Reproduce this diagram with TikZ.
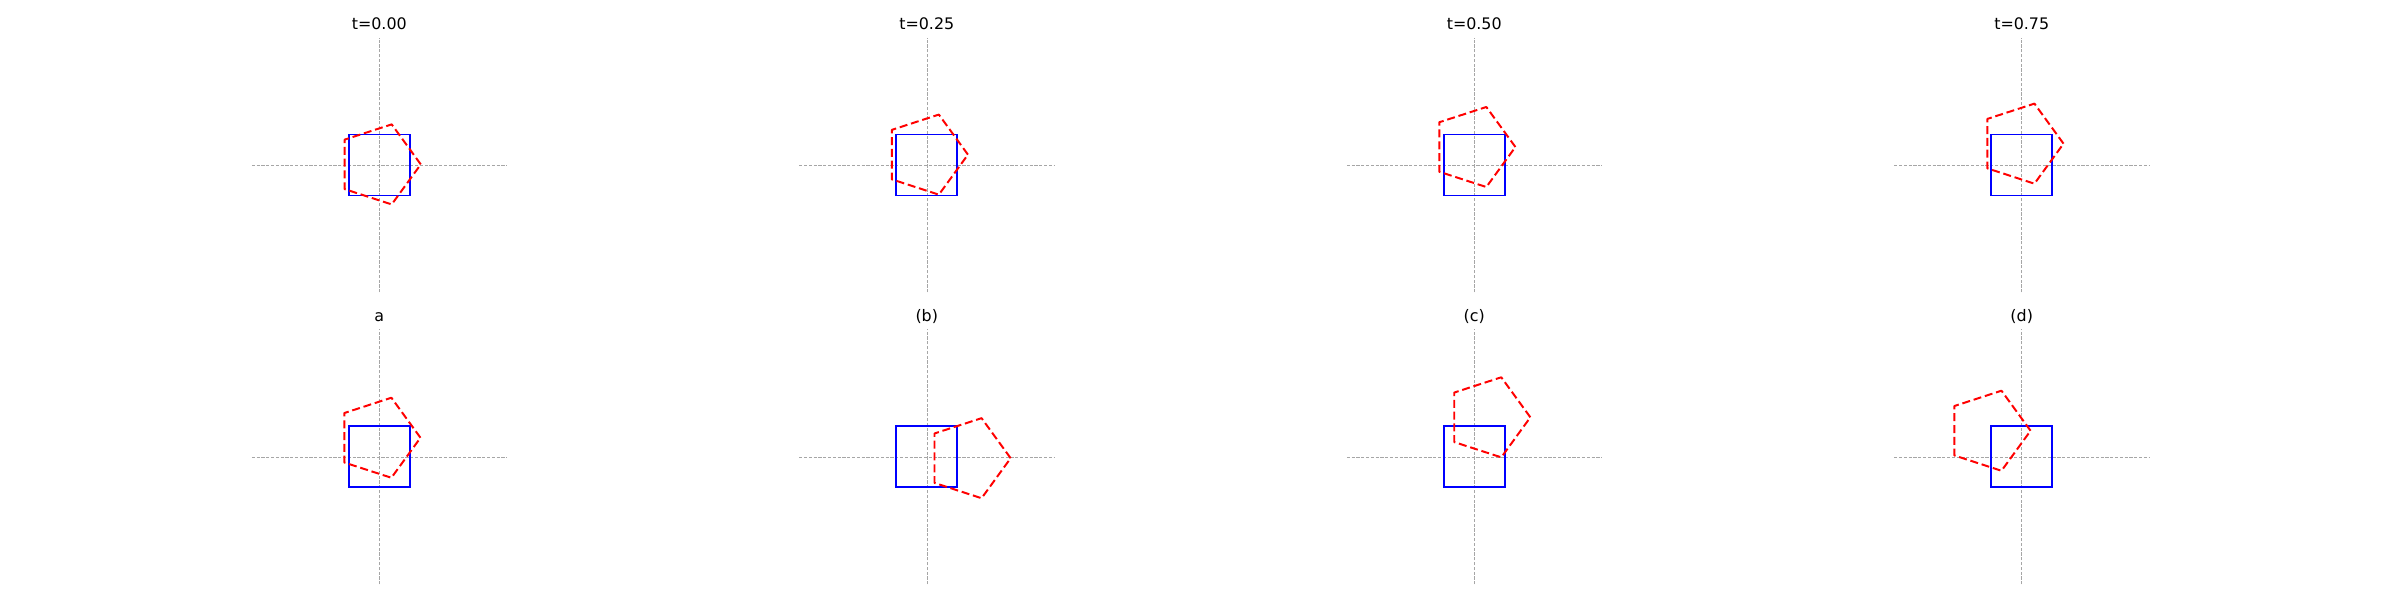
\documentclass[tikz,border=0pt]{standalone}
\usepackage{fontspec}
\setmainfont{DejaVu Sans}
\usetikzlibrary{calc}

\begin{document}
\begin{tikzpicture}[x=7.625mm,y=7.625mm,
    axisline/.style={gray!70,line width=0.35pt,dash pattern=on 0.8mm off 0.4mm},
    sq/.style={blue,line width=1.4pt},
    pent/.style={red,line width=1.4pt,dash pattern=on 2mm off 0.95mm,line join=round},
    ttl/.style={anchor=base,inner sep=0pt,font=\fontsize{11.3}{13}\selectfont}]
    \useasboundingbox (0,0) rectangle (78.689,19.672);
    \coordinate (p1) at (12.436,14.262);
    \coordinate (p2) at (30.386,14.262);
    \coordinate (p3) at (48.336,14.262);
    \coordinate (p4) at (66.286,14.262);
    \coordinate (q1) at (12.436,4.689);
    \coordinate (q2) at (30.386,4.689);
    \coordinate (q3) at (48.336,4.689);
    \coordinate (q4) at (66.286,4.689);
    \coordinate (f1) at ($(p1)+(-0.02,0.02)$);
    \coordinate (f2) at ($(p2)+(-0.03,0.34)$);
    \coordinate (f3) at ($(p3)+(-0.03,0.59)$);
    \coordinate (f4) at ($(p4)+(-0.01,0.70)$);
    \coordinate (f5) at ($(q1)+(-0.03,0.63)$);
    \coordinate (f6) at ($(q2)+(1.37,-0.04)$);
    \coordinate (f7) at ($(q3)+(0.46,1.30)$);
    \coordinate (f8) at ($(q4)+(-1.09,0.86)$);
    \draw[axisline] ($(p1)+(-4.18,0)$) -- ($(p1)+(4.18,0)$);
    \draw[axisline] ($(p1)+(0,-4.18)$) -- ($(p1)+(0,4.18)$);
    \draw[sq] ($(p1)+(-1,-1)$) rectangle ($(p1)+(1,1)$);
    \draw[pent,shift={(f1)}] (0:1.38) -- (72:1.38) -- (144:1.38) -- (216:1.38) -- (288:1.38) -- cycle;
    \node[ttl] (t1) at ($(p1)+(0,4.44)$) {t=0.00};
    \draw[axisline] ($(p2)+(-4.18,0)$) -- ($(p2)+(4.18,0)$);
    \draw[axisline] ($(p2)+(0,-4.18)$) -- ($(p2)+(0,4.18)$);
    \draw[sq] ($(p2)+(-1,-1)$) rectangle ($(p2)+(1,1)$);
    \draw[pent,shift={(f2)}] (0:1.38) -- (72:1.38) -- (144:1.38) -- (216:1.38) -- (288:1.38) -- cycle;
    \node[ttl] (t2) at ($(p2)+(0,4.44)$) {t=0.25};
    \draw[axisline] ($(p3)+(-4.18,0)$) -- ($(p3)+(4.18,0)$);
    \draw[axisline] ($(p3)+(0,-4.18)$) -- ($(p3)+(0,4.18)$);
    \draw[sq] ($(p3)+(-1,-1)$) rectangle ($(p3)+(1,1)$);
    \draw[pent,shift={(f3)}] (0:1.38) -- (72:1.38) -- (144:1.38) -- (216:1.38) -- (288:1.38) -- cycle;
    \node[ttl] (t3) at ($(p3)+(0,4.44)$) {t=0.50};
    \draw[axisline] ($(p4)+(-4.18,0)$) -- ($(p4)+(4.18,0)$);
    \draw[axisline] ($(p4)+(0,-4.18)$) -- ($(p4)+(0,4.18)$);
    \draw[sq] ($(p4)+(-1,-1)$) rectangle ($(p4)+(1,1)$);
    \draw[pent,shift={(f4)}] (0:1.38) -- (72:1.38) -- (144:1.38) -- (216:1.38) -- (288:1.38) -- cycle;
    \node[ttl] (t4) at ($(p4)+(0,4.44)$) {t=0.75};
    \draw[axisline] ($(q1)+(-4.18,0)$) -- ($(q1)+(4.18,0)$);
    \draw[axisline] ($(q1)+(0,-4.18)$) -- ($(q1)+(0,4.18)$);
    \draw[sq] ($(q1)+(-1,-1)$) rectangle ($(q1)+(1,1)$);
    \draw[pent,shift={(f5)}] (0:1.38) -- (72:1.38) -- (144:1.38) -- (216:1.38) -- (288:1.38) -- cycle;
    \node[ttl] (t5) at ($(q1)+(0,4.44)$) {a};
    \draw[axisline] ($(q2)+(-4.18,0)$) -- ($(q2)+(4.18,0)$);
    \draw[axisline] ($(q2)+(0,-4.18)$) -- ($(q2)+(0,4.18)$);
    \draw[sq] ($(q2)+(-1,-1)$) rectangle ($(q2)+(1,1)$);
    \draw[pent,shift={(f6)}] (0:1.38) -- (72:1.38) -- (144:1.38) -- (216:1.38) -- (288:1.38) -- cycle;
    \node[ttl] (t6) at ($(q2)+(0,4.44)$) {(b)};
    \draw[axisline] ($(q3)+(-4.18,0)$) -- ($(q3)+(4.18,0)$);
    \draw[axisline] ($(q3)+(0,-4.18)$) -- ($(q3)+(0,4.18)$);
    \draw[sq] ($(q3)+(-1,-1)$) rectangle ($(q3)+(1,1)$);
    \draw[pent,shift={(f7)}] (0:1.38) -- (72:1.38) -- (144:1.38) -- (216:1.38) -- (288:1.38) -- cycle;
    \node[ttl] (t7) at ($(q3)+(0,4.44)$) {(c)};
    \draw[axisline] ($(q4)+(-4.18,0)$) -- ($(q4)+(4.18,0)$);
    \draw[axisline] ($(q4)+(0,-4.18)$) -- ($(q4)+(0,4.18)$);
    \draw[sq] ($(q4)+(-1,-1)$) rectangle ($(q4)+(1,1)$);
    \draw[pent,shift={(f8)}] (0:1.38) -- (72:1.38) -- (144:1.38) -- (216:1.38) -- (288:1.38) -- cycle;
    \node[ttl] (t8) at ($(q4)+(0,4.44)$) {(d)};
  \end{tikzpicture}
\end{document}
